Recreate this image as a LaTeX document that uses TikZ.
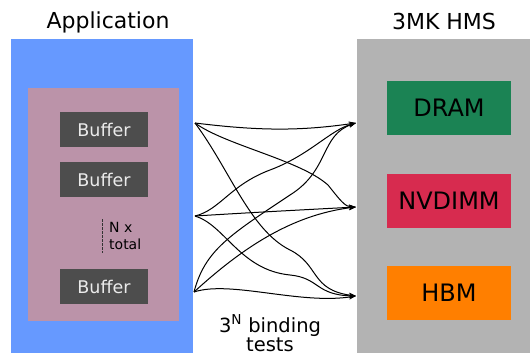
\documentclass[tikz,border=0pt]{standalone}
\usepackage{fontspec}
\setmainfont{DejaVu Sans}
\usetikzlibrary{arrows.meta}
\definecolor{appblue}{HTML}{6699FF}
\definecolor{hmsgray}{HTML}{B3B3B3}
\definecolor{pinkbox}{HTML}{BB93A9}
\definecolor{bufgray}{HTML}{4D4D4D}
\definecolor{dramgreen}{HTML}{1B8354}
\definecolor{nvred}{HTML}{D72B4F}
\definecolor{hbmorange}{HTML}{FF7F00}
\begin{document}
\begin{tikzpicture}[x=1pt,y=-1pt,
  bufbox/.style={fill=bufgray,text=white!92!black,minimum width=88pt,minimum height=35pt,inner sep=0pt,font=\fontsize{17.5}{20}\selectfont},
  memboxstyle/.style={minimum width=124pt,minimum height=54pt,inner sep=0pt,font=\fontsize{24}{28}\selectfont},
  link/.style={line width=1pt,-{Stealth[length=7pt,width=5pt]}},
  title/.style={font=\fontsize{22}{26}\selectfont},
  testlabel/.style={font=\fontsize{19.5}{20}\selectfont,inner sep=0pt,text depth=0pt,anchor=base}]
\useasboundingbox (0,0) rectangle (530,353);
\fill[white] (0,0) rectangle (530,353);
\fill[appblue] (11,39) rectangle (193,353);
\fill[hmsgray] (357,39) rectangle (530,353);
\fill[pinkbox] (28,88) rectangle (179,321);
\node[title] (apptitle) at (108,22) {Application};
\node[title] (hmstitle) at (444,21) {3MK HMS};
\node[bufbox] (b1) at (104,129.5) {Buffer};
\node[bufbox] (b2) at (104,179.5) {Buffer};
\node[bufbox] (b3) at (104,286.5) {Buffer};
\coordinate (d1) at (102,219);
\coordinate (d2) at (102,253);
\draw[black!80,line width=0.7pt,dash pattern=on 3pt off 1pt] (d1) -- (d2);
\node[anchor=west,align=left,font=\fontsize{14}{17}\selectfont,inner sep=0pt] (ntotal) at (109,236) {N x\\total};
\node[memboxstyle,fill=dramgreen] (dram) at (449,108) {DRAM};
\node[memboxstyle,fill=nvred] (nvdimm) at (449,201) {NVDIMM};
\node[memboxstyle,fill=hbmorange] (hbm) at (449,293) {HBM};
\node[testlabel] (tests1) at (270,332) {3\textsuperscript{N} binding};
\node[testlabel] (tests2) at (270,351) {tests};
\coordinate (s1) at (195,123);
\coordinate (s2) at (195,216);
\coordinate (s3) at (194,292);
\coordinate (t1) at (356,123);
\coordinate (t2) at (356,207);
\coordinate (t3) at (356,296);
\draw[link] (s1) .. controls (260,131) and (300,131) .. (t1);
\draw[link] (s1) .. controls (225,145) and (300,160) .. (328,185) .. controls (340,200) and (345,207) .. (t2);
\draw[link] (s1) .. controls (230,170) and (250,230) .. (290,250) .. controls (320,265) and (310,290) .. (t3);
\draw[link] (s2) .. controls (220,210) and (230,185) .. (270,170) .. controls (310,155) and (330,130) .. (t1);
\draw[link] (s2) .. controls (260,212) and (300,210) .. (t2);
\draw[link] (s2) .. controls (225,225) and (240,270) .. (290,275) .. controls (320,278) and (315,295) .. (t3);
\draw[link] (s3) .. controls (205,250) and (230,235) .. (290,195) .. controls (330,170) and (320,135) .. (t1);
\draw[link] (s3) .. controls (240,250) and (290,215) .. (t2);
\draw[link] (s3) .. controls (230,280) and (300,305) .. (t3);
\end{tikzpicture}
\end{document}
